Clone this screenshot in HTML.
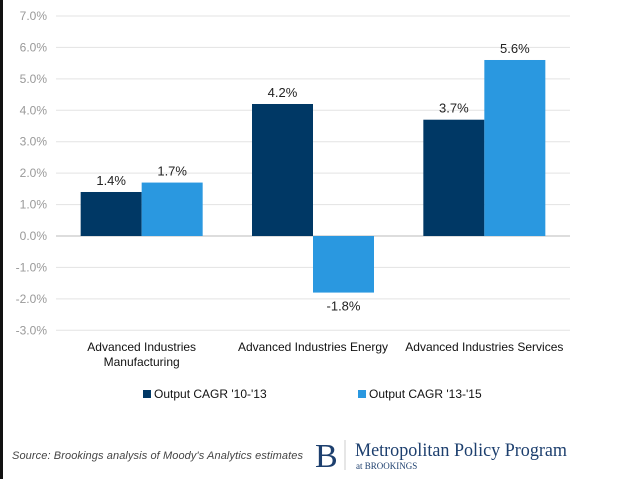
<!DOCTYPE html>
<html><head><meta charset="utf-8"><style>
body{margin:0;background:#fff;width:620px;height:479px;overflow:hidden;position:relative;font-family:"Liberation Sans",sans-serif}
#edge{position:absolute;left:0;top:0;width:3px;height:479px;background:#111}
</style></head><body>
<div id="edge"></div>
<svg id="chart" width="620" height="479" style="position:absolute;left:0;top:0"></svg>
<script>
const categories=["Advanced Industries\nManufacturing","Advanced Industries Energy","Advanced Industries Services"];
const series1=[1.4,4.2,3.7];
const series2=[1.7,-1.8,5.6];
const labels1=["1.4%","4.2%","3.7%"];
const labels2=["1.7%","-1.8%","5.6%"];
const ticks=[7,6,5,4,3,2,1,0,-1,-2,-3];
const seriesNames=["Output CAGR '10-'13","Output CAGR '13-'15"];
const colors=["#003865","#2a98e0"];
const svg=document.getElementById('chart');const NS='http://www.w3.org/2000/svg';
function mk(t,a,txt){const e=document.createElementNS(NS,t);for(const k in a)e.setAttribute(k,a[k]);if(txt!==undefined)e.textContent=txt;svg.appendChild(e);return e;}
const y=v=>236-v*31.43;
const x0=56,x1=570,gw=(x1-x0)/categories.length;
const cx=i=>x0+gw*(i+0.5);
ticks.forEach(t=>{
 const g=mk('line',{x1:x0,x2:x1,y1:y(t),y2:y(t),stroke:t===0?'#bbb':'#e3e3e3','stroke-width':1});
 
 const l=mk('text',{x:47,y:y(t)+4,'text-anchor':'end','font-size':12,fill:'#999'},t.toFixed(1)+'%');
 
});
const bw=61;
[series1,series2].forEach((s,si)=>{
 s.forEach((v,i)=>{
  const bx=cx(i)-bw+si*bw;
  const r=mk('rect',{x:bx,y:Math.min(y(v),y(0)),width:bw,height:Math.abs(y(v)-y(0)),fill:colors[si]});
  
  const lab=(si?labels2:labels1)[i];
  const ty=v>=0?y(v)-7:y(v)+18;
  const t=mk('text',{x:bx+bw/2,y:ty,'text-anchor':'middle','font-size':13,fill:'#222'},lab);
  
 });
});
categories.forEach((c,i)=>{
 c.split('\n').forEach((ln,j)=>{
  const t=mk('text',{x:cx(i),y:351+j*15,'text-anchor':'middle','font-size':12,fill:'#111'},ln);
  
 });
});
[[143,seriesNames[0]],[358,seriesNames[1]]].forEach((p,i)=>{
 const r=mk('rect',{x:p[0],y:390,width:8,height:8,fill:colors[i]});
 
 const t=mk('text',{x:p[0]+11,y:398,'font-size':12,fill:'#111'},p[1]);
 
});
let s=mk('text',{x:12,y:459,'font-size':11,'font-style':'italic',fill:'#444',textLength:291},"Source: Brookings analysis of Moody's Analytics estimates");

s=mk('text',{x:315,y:467,'font-size':34,'font-family':'Liberation Serif, serif',fill:'#1d3f6e'},'B');

s=mk('line',{x1:345,x2:345,y1:440,y2:470,stroke:'#ccc'});

s=mk('text',{x:355,y:456,'font-size':19,'font-family':'Liberation Serif, serif',fill:'#1d3f6e',textLength:212,lengthAdjust:'spacingAndGlyphs'},'Metropolitan Policy Program');

s=mk('text',{x:356,y:469,'font-size':9,'font-family':'Liberation Serif, serif',fill:'#1d3f6e'},'at BROOKINGS');

</script>
</body></html>
